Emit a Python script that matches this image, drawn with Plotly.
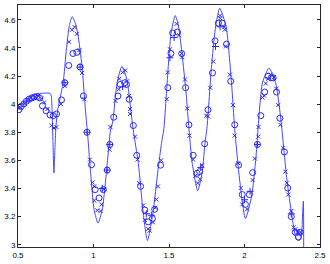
import plotly.graph_objects as go

# ---- fitted curve ----
curve_x = [0.500, 0.520, 0.539, 0.570, 0.604, 0.636, 0.670, 0.712, 0.720, 0.726, 0.731, 0.738,
           0.745, 0.752, 0.762, 0.777, 0.799, 0.820, 0.840, 0.859, 0.878, 0.896, 0.924, 0.946,
           0.960, 0.976, 1.004, 1.030, 1.058, 1.091, 1.112, 1.128, 1.156, 1.188, 1.221, 1.250,
           1.264, 1.297, 1.329, 1.357, 1.394, 1.427, 1.450, 1.466, 1.495, 1.513, 1.541, 1.560,
           1.585, 1.614, 1.632, 1.654, 1.690, 1.719, 1.740, 1.751, 1.784, 1.810, 1.836, 1.860,
           1.881, 1.914, 1.935, 1.968, 2.006, 2.047, 2.076, 2.092, 2.119, 2.162, 2.206, 2.238,
           2.281, 2.314, 2.336, 2.347, 2.368, 2.380, 2.385, 2.390, 2.392]
curve_y = [3.965, 3.990, 4.012, 4.040, 4.062, 4.075, 4.078, 4.077, 4.060, 3.950, 3.750, 3.510,
           3.700, 3.850, 3.950, 4.035, 4.152, 4.385, 4.560, 4.622, 4.580, 4.500, 4.268, 3.965,
           3.800, 3.578, 3.250, 3.154, 3.250, 3.578, 3.810, 3.880, 4.150, 4.268, 4.175, 3.930,
           3.810, 3.578, 3.229, 3.030, 3.229, 3.530, 3.720, 3.825, 4.268, 4.500, 4.630, 4.570,
           4.370, 4.070, 3.825, 3.578, 3.385, 3.510, 3.740, 3.825, 4.300, 4.560, 4.683, 4.620,
           4.536, 4.152, 3.825, 3.460, 3.187, 3.345, 3.625, 3.860, 4.152, 4.257, 4.152, 3.918,
           3.460, 3.205, 3.065, 3.035, 3.035, 3.100, 3.230, 3.310, 2.970]

# ---- circle markers ----
circ_x = [0.506, 0.521, 0.539, 0.556, 0.573, 0.591, 0.608, 0.625, 0.643, 0.662, 0.686, 0.712,
          0.734, 0.755, 0.788, 0.810, 0.836, 0.864, 0.890, 0.911, 0.933, 0.957, 0.987, 1.011,
          1.037, 1.065, 1.091, 1.108, 1.134, 1.162, 1.177, 1.206, 1.219, 1.236, 1.264, 1.286,
          1.312, 1.340, 1.362, 1.390, 1.405, 1.444, 1.492, 1.513, 1.524, 1.556, 1.584, 1.610,
          1.632, 1.660, 1.686, 1.703, 1.736, 1.758, 1.788, 1.805, 1.827, 1.853, 1.881, 1.909,
          1.935, 1.961, 1.985, 2.006, 2.032, 2.054, 2.086, 2.108, 2.134, 2.156, 2.177, 2.190,
          2.212, 2.234, 2.264, 2.286, 2.310, 2.336, 2.357, 2.368]
circ_y = [3.960, 3.984, 4.002, 4.021, 4.035, 4.044, 4.051, 4.054, 4.044, 3.988, 3.953, 3.923,
          3.918, 3.930, 4.030, 4.152, 4.275, 4.360, 4.368, 4.264, 4.058, 3.800, 3.569, 3.392,
          3.333, 3.392, 3.531, 3.713, 3.907, 4.058, 4.140, 4.152, 4.140, 4.035, 3.848, 3.636,
          3.415, 3.247, 3.163, 3.187, 3.252, 3.566, 4.117, 4.360, 4.506, 4.513, 4.360, 4.117,
          3.853, 3.636, 3.508, 3.520, 3.718, 3.960, 4.222, 4.450, 4.576, 4.576, 4.427, 4.163,
          3.853, 3.566, 3.357, 3.287, 3.357, 3.513, 3.713, 3.918, 4.086, 4.198, 4.187, 4.187,
          4.086, 3.900, 3.660, 3.403, 3.200, 3.089, 3.054, 3.089]

# ---- x markers ----
xm_x = [0.517, 0.543, 0.565, 0.586, 0.612, 0.634, 0.654, 0.673, 0.695, 0.723, 0.738, 0.755,
        0.784, 0.810, 0.838, 0.857, 0.875, 0.890, 0.907, 0.924, 0.940, 0.976, 0.994, 1.005,
        1.005, 1.026, 1.047, 1.054, 1.071, 1.106, 1.112, 1.145, 1.167, 1.171, 1.193, 1.210,
        1.223, 1.236, 1.242, 1.242, 1.275, 1.292, 1.303, 1.329, 1.340, 1.362, 1.372, 1.394,
        1.409, 1.416, 1.427, 1.448, 1.485, 1.492, 1.506, 1.550, 1.567, 1.584, 1.587, 1.606,
        1.621, 1.636, 1.660, 1.675, 1.690, 1.706, 1.719, 1.747, 1.758, 1.773, 1.794, 1.838,
        1.840, 1.866, 1.870, 1.877, 1.903, 1.924, 1.935, 1.958, 1.975, 1.985, 2.017, 2.054,
        2.069, 2.091, 2.093, 2.119, 2.130, 2.141, 2.156, 2.173, 2.195, 2.210, 2.223, 2.238,
        2.255, 2.271, 2.280, 2.290, 2.310, 2.325, 2.336, 2.351, 2.364, 2.370]
xm_y = [3.974, 4.002, 4.026, 4.042, 4.051, 4.058, 4.040, 4.012, 3.965, 3.848, 3.830, 3.837,
        4.000, 4.128, 4.443, 4.529, 4.548, 4.500, 4.385, 4.222, 4.035, 3.606, 3.443, 3.415,
        3.315, 3.245, 3.240, 3.287, 3.396, 3.676, 3.837, 4.023, 4.105, 4.180, 4.226, 4.240,
        4.163, 4.058, 3.965, 3.930, 3.769, 3.606, 3.438, 3.280, 3.177, 3.112, 3.100, 3.159,
        3.263, 3.322, 3.415, 3.600, 4.035, 4.226, 4.390, 4.571, 4.490, 4.360, 4.333, 4.175,
        3.970, 3.776, 3.606, 3.490, 3.438, 3.466, 3.566, 3.918, 3.913, 4.117, 4.303, 4.630,
        4.610, 4.548, 4.530, 4.410, 4.210, 3.993, 3.776, 3.580, 3.403, 3.287, 3.252, 3.460,
        3.613, 3.769, 3.837, 4.047, 4.060, 4.147, 4.180, 4.210, 4.193, 4.110, 3.993, 3.853,
        3.690, 3.520, 3.440, 3.357, 3.240, 3.124, 3.110, 3.089, 3.077, 3.090]

# ---- plus markers ----
pl_x = [0.810, 0.911, 0.957, 1.058, 1.091, 1.108, 1.193, 1.350, 1.383, 1.506, 1.534, 1.710,
        1.808, 1.838, 2.000, 2.037, 2.086, 2.310]
pl_y = [4.152, 4.264, 3.800, 3.400, 3.531, 3.713, 4.124, 3.220, 3.210, 4.330, 4.473, 3.550,
        4.410, 4.550, 3.320, 3.380, 3.713, 3.220]

x_ticks = [0.5, 1, 1.5, 2, 2.5]
x_labels = ["0.5", "1", "1.5", "2", "2.5"]
y_ticks = [3, 3.2, 3.4, 3.6, 3.8, 4, 4.2, 4.4, 4.6]
y_labels = ["3", "3.2", "3.4", "3.6", "3.8", "4", "4.2", "4.4", "4.6"]

blue = "rgb(40,40,255)"

fig = go.Figure()
fig.add_trace(go.Scatter(x=curve_x, y=curve_y, mode="lines",
                         line=dict(color="rgb(70,70,255)", width=1, shape="spline", smoothing=0.6),
                         showlegend=False, hoverinfo="skip"))
fig.add_trace(go.Scatter(x=circ_x, y=circ_y, mode="markers",
                         marker=dict(symbol="circle-open", size=6, color=blue, line=dict(width=1)),
                         showlegend=False))
fig.add_trace(go.Scatter(x=xm_x, y=xm_y, mode="markers",
                         marker=dict(symbol="x-thin-open", size=4, color=blue, line=dict(width=1, color=blue)),
                         showlegend=False))
fig.add_trace(go.Scatter(x=pl_x, y=pl_y, mode="markers",
                         marker=dict(symbol="cross-thin-open", size=5, color=blue, line=dict(width=1, color=blue)),
                         showlegend=False))

axis_common = dict(showgrid=False, zeroline=False, showline=True, linecolor="rgb(40,40,40)",
                   linewidth=1, mirror="ticks", ticks="inside", ticklen=3, tickwidth=1,
                   tickcolor="rgb(40,40,40)", tickfont=dict(family="Liberation Sans, Arial", size=8, color="black"))

fig.update_xaxes(range=[0.5, 2.5], tickvals=x_ticks, ticktext=x_labels, **axis_common)
fig.update_yaxes(range=[2.984, 4.705], tickvals=y_ticks, ticktext=y_labels, **axis_common)

fig.update_layout(width=330, height=264, margin=dict(l=14, r=8, t=4, b=14),
                  plot_bgcolor="white", paper_bgcolor="white")

fig.write_html("out.html", config={"displayModeBar": False})
